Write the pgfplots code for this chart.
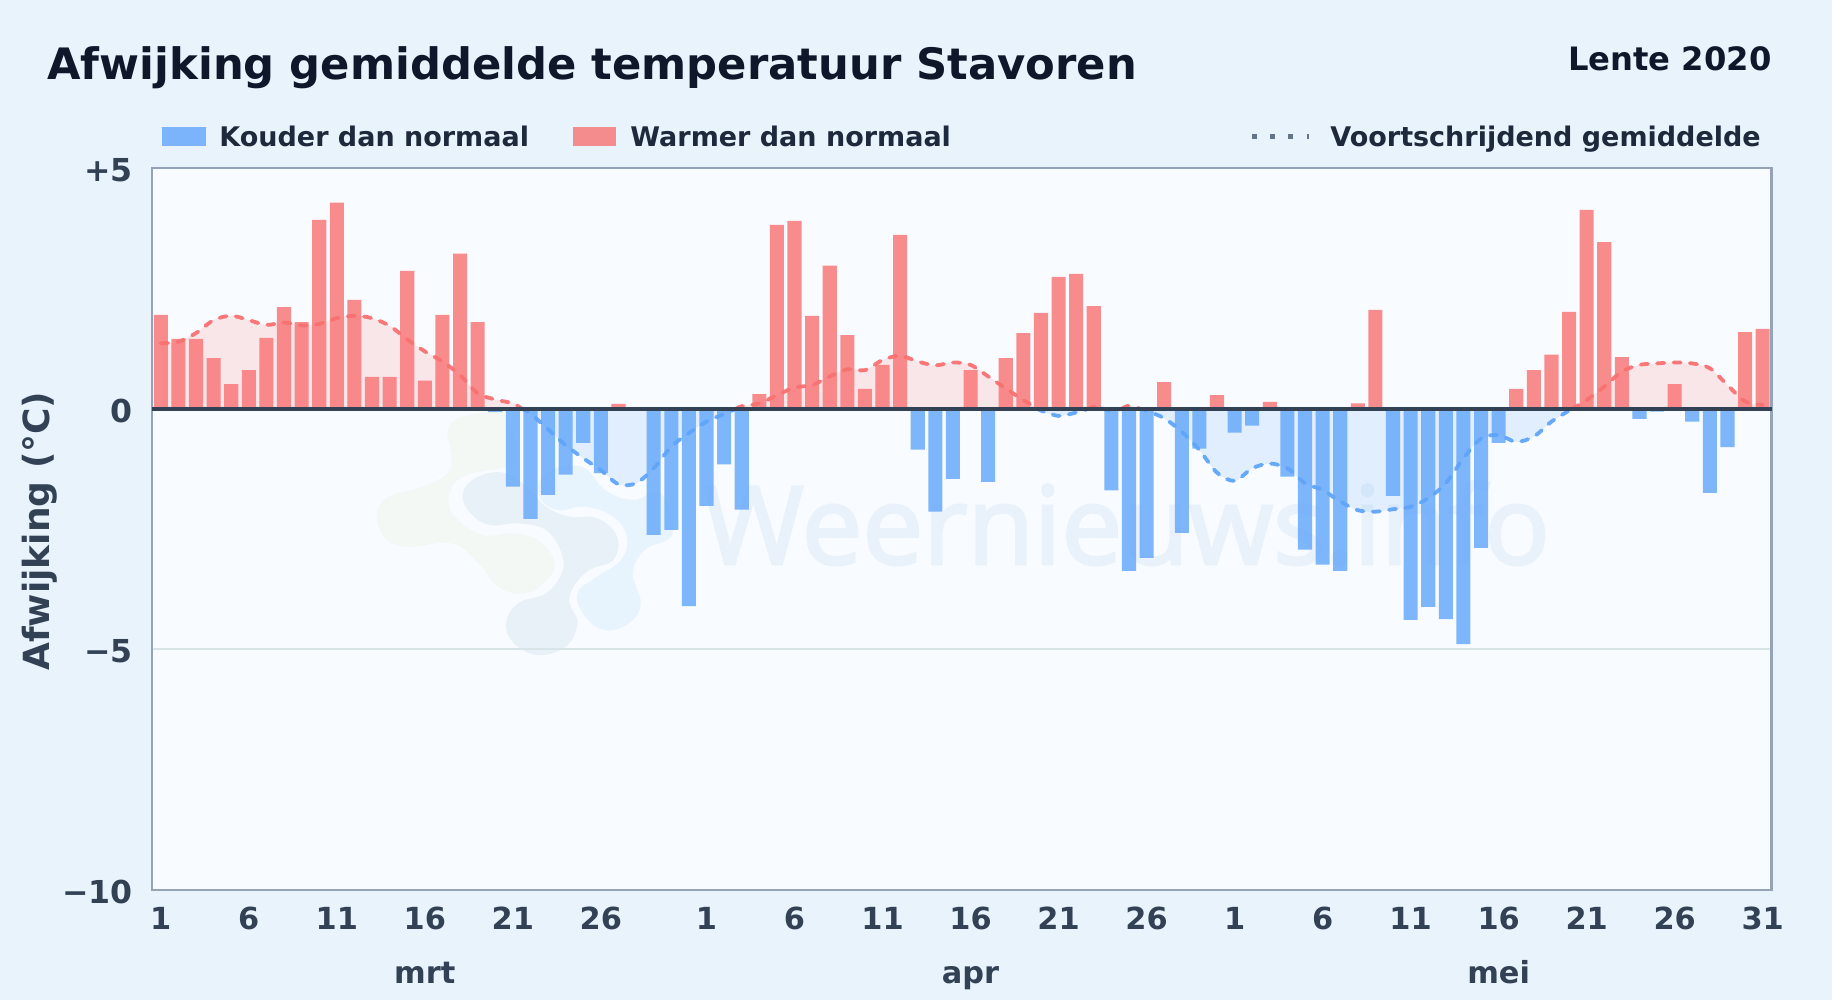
\documentclass[border=0pt]{standalone}
\usepackage{fontspec}
\usepackage{pgfplots}
\usepackage{pgfplotstable}
\pgfplotsset{compat=1.18}
\setmainfont{DejaVu Sans}
\newfontfamily\wmfont[FakeBold=2.5]{Open Sans}
\definecolor{pagebg}{HTML}{E8F3FC}
\definecolor{plotbg}{HTML}{F8FBFF}
\definecolor{framec}{HTML}{94A3B8}
\definecolor{gridc}{HTML}{D9E4E9}
\definecolor{zeroc}{HTML}{334155}
\definecolor{titlec}{HTML}{0F172A}
\definecolor{legc}{HTML}{1E293B}
\definecolor{tickc}{HTML}{334155}
\definecolor{blueb}{HTML}{60A5FA}
\definecolor{redb}{HTML}{F87171}
\definecolor{dotc}{HTML}{64748B}
\definecolor{wmtext}{HTML}{E9F2FA}
\definecolor{wmgreen}{HTML}{F3F8F5}
\definecolor{wmgray}{HTML}{E8F0F8}
\definecolor{wmblue}{HTML}{E8F4FD}

\pgfplotstableread{
x y
19 -0.07
20 -1.62
21 -2.29
22 -1.79
23 -1.37
24 -0.71
25 -1.34
28 -2.62
29 -2.52
30 -4.10
31 -2.02
32 -1.16
33 -2.10
43 -0.85
44 -2.14
45 -1.46
47 -1.52
54 -1.70
55 -3.37
56 -3.10
58 -2.58
59 -0.83
61 -0.50
62 -0.35
64 -1.41
65 -2.93
66 -3.24
67 -3.37
70 -1.81
71 -4.39
72 -4.12
73 -4.37
74 -4.89
75 -2.89
76 -0.71
84 -0.21
85 -0.06
87 -0.27
88 -1.75
89 -0.80
}\tCold
\pgfplotstableread{
x y
0 1.95
1 1.45
2 1.45
3 1.05
4 0.51
5 0.80
6 1.47
7 2.11
8 1.80
9 3.92
10 4.28
11 2.26
12 0.66
13 0.66
14 2.86
15 0.58
16 1.95
17 3.22
18 1.80
26 0.10
34 0.30
35 3.82
36 3.90
37 1.93
38 2.97
39 1.53
40 0.41
41 0.91
42 3.61
46 0.80
48 1.05
49 1.57
50 1.99
51 2.74
52 2.80
53 2.13
57 0.55
60 0.28
63 0.14
68 0.11
69 2.05
77 0.41
78 0.80
79 1.12
80 2.01
81 4.13
82 3.46
83 1.07
86 0.51
90 1.59
91 1.66
}\tWarm
% running mean, split where it changes sign
\pgfplotstableread{
x y
0 1.36
1 1.39
2 1.57
3 1.84
4 1.93
5 1.84
6 1.74
7 1.79
8 1.73
9 1.76
10 1.88
11 1.93
12 1.88
13 1.72
14 1.44
15 1.19
16 0.98
17 0.70
18 0.32
19 0.19
20 0.11
20.5 0
}\mPosA
\pgfplotstableread{
x y
20.5 0
21 -0.10
22 -0.43
23 -0.76
24 -1.03
25 -1.28
26 -1.57
27 -1.55
28 -1.24
29 -0.79
30 -0.51
31 -0.27
32 -0.11
32.7 0
}\mNegA
\pgfplotstableread{
x y
32.7 0
33 0.05
34 0.11
35 0.28
36 0.44
37 0.49
38 0.67
39 0.82
40 0.80
41 1.01
42 1.10
43 0.98
44 0.90
45 0.96
46 0.91
47 0.67
48 0.42
49 0.18
49.8 0
}\mPosB
\pgfplotstableread{
x y
49.8 0
50 -0.04
51 -0.15
52 -0.08
52.7 0
}\mNegB
\pgfplotstableread{
x y
52.7 0
53 0.04
53.5 0
}\mPosC
\pgfplotstableread{
x y
53.5 0
54 -0.04
54.6 0
}\mNegC
\pgfplotstableread{
x y
54.6 0
55 0.06
55.6 0
}\mPosD
\pgfplotstableread{
x y
55.6 0
56 -0.04
57 -0.20
58 -0.48
59 -0.86
60 -1.33
61 -1.50
62 -1.24
63 -1.14
64 -1.24
65 -1.55
66 -1.69
67 -1.93
68 -2.11
69 -2.14
70 -2.09
71 -2.04
72 -1.86
73 -1.55
74 -1.03
75 -0.62
76 -0.55
77 -0.69
78 -0.58
79 -0.27
80 -0.04
80.2 0
}\mNegD
\pgfplotstableread{
x y
80.2 0
81 0.18
82 0.46
83 0.77
84 0.91
85 0.94
86 0.96
87 0.94
88 0.84
89 0.49
90 0.15
91 0.08
}\mPosE

\newcommand{\fillseg}[2]{\addplot[draw=none,fill=#2,fill opacity=0.15,smooth,tension=0.5,forget plot] table {#1} \closedcycle;}
\newcommand{\lineseg}[2]{\addplot[color=#2,opacity=0.95,line width=1.9pt,line cap=round,dash pattern=on 3.6pt off 4.6pt,smooth,tension=0.5,forget plot] table {#1};}

\begin{document}
\begin{tikzpicture}
% page and plot area
\fill[pagebg] (0pt,0pt) rectangle (916pt,500pt);
\fill[plotbg] (76pt,55pt) rectangle (885.75pt,416pt);
% watermark logo
\begin{scope}[x=0.1977pt,y=-0.16667pt,shift={(180pt,305pt)}]
\fill[wmgreen] plot[smooth cycle,tension=0.7] coordinates {(225,110)(300,70)(370,75)(395,200)(370,230)(260,260)(225,320)(240,380)(310,435)(380,430)(450,450)(490,510)(480,560)(420,610)(350,590)(300,520)(230,460)(110,470)(50,420)(60,330)(170,285)(230,230)};
\fill[wmblue] plot[smooth cycle,tension=0.7] coordinates {(470,250)(560,230)(620,300)(690,330)(760,310)(790,430)(720,480)(690,550)(710,640)(680,700)(620,720)(570,680)(550,610)(600,560)(660,510)(675,440)(640,380)(570,350)(500,360)(455,320)};
\fill[wmgray] plot[smooth cycle,tension=0.7] coordinates {(260,310)(300,260)(370,250)(430,300)(470,350)(530,380)(600,385)(650,440)(640,510)(580,540)(540,590)(530,640)(550,700)(520,770)(450,795)(390,760)(370,700)(400,640)(470,610)(510,550)(510,490)(470,420)(400,400)(330,405)(280,370)};
\end{scope}
\begin{scope}[x=0.5pt,y=-0.5pt,shift={(0pt,500pt)}]
\node[anchor=base west,inner sep=0pt,text=wmtext,font=\wmfont\fontsize{54.2}{60}\selectfont] at (703,564) {Weernieuws.info};
% title
\node[anchor=base west,inner sep=0pt,text=titlec,font=\fontsize{21.64}{26}\selectfont\bfseries] at (47,80) {Afwijking gemiddelde temperatuur Stavoren};
\node[anchor=base east,inner sep=0pt,text=titlec,font=\fontsize{16.1}{19}\selectfont\bfseries] at (1772,71) {Lente 2020};
% legend
\fill[blueb,opacity=0.8] (162,127) rectangle (206,146);
\node[anchor=base west,inner sep=0pt,text=legc,font=\fontsize{13.5}{16}\selectfont\bfseries] at (219,147) {Kouder dan normaal};
\fill[redb,opacity=0.8] (573,127) rectangle (616,146);
\node[anchor=base west,inner sep=0pt,text=legc,font=\fontsize{13.5}{16}\selectfont\bfseries] at (630,147) {Warmer dan normaal};
\draw[dotc,line width=2.5pt,dash pattern=on 2.5pt off 6.6pt] (1252,137) -- (1309,137);
\node[anchor=base west,inner sep=0pt,text=legc,font=\fontsize{13.5}{16}\selectfont\bfseries] at (1330,147) {Voortschrijdend gemiddelde};
\end{scope}

\begin{axis}[
  at={(76pt,55pt)},anchor=south west,
  scale only axis,width=809.75pt,height=361pt,
  xmin=-0.5,xmax=91.5,ymin=-10,ymax=5,
  clip=false,
  axis line style={framec,line width=1.3pt},
  major tick length=0pt,
  ymajorgrids,grid style={gridc,line width=0.85pt},
  xtick={0,5,10,15,20,25,31,36,41,46,51,56,61,66,71,76,81,86,91},
  xticklabels={1,6,11,16,21,26,1,6,11,16,21,26,1,6,11,16,21,26,31},
  ytick={-10,-5,0,5},
  yticklabels={−10,−5,0,+5},
  tick label style={font=\fontsize{15.8}{18}\selectfont\bfseries,text=tickc,inner sep=0pt},
  xticklabel style={font=\fontsize{15.2}{18}\selectfont\bfseries,anchor=base,yshift=-20pt},
  yticklabel style={anchor=east,xshift=-9.5pt,yshift=-1pt},
  ylabel={Afwijking (°C)},
  every axis y label/.style={at={(axis description cs:-0.0692,0.497)},rotate=90,anchor=center,font=\fontsize{18}{21}\selectfont\bfseries,text=tickc},
]
\fillseg{\mPosA}{redb}\fillseg{\mNegA}{blueb}\fillseg{\mPosB}{redb}\fillseg{\mNegB}{blueb}
\fillseg{\mPosC}{redb}\fillseg{\mNegC}{blueb}\fillseg{\mPosD}{redb}\fillseg{\mNegD}{blueb}\fillseg{\mPosE}{redb}
\addplot[ybar,bar width=0.8,bar shift=0pt,fill=blueb,fill opacity=0.8,draw=none] table {\tCold};
\addplot[ybar,bar width=0.8,bar shift=0pt,fill=redb,fill opacity=0.8,draw=none] table {\tWarm};
\lineseg{\mPosA}{redb}\lineseg{\mNegA}{blueb}\lineseg{\mPosB}{redb}\lineseg{\mNegB}{blueb}
\lineseg{\mPosC}{redb}\lineseg{\mNegC}{blueb}\lineseg{\mPosD}{redb}\lineseg{\mNegD}{blueb}\lineseg{\mPosE}{redb}
\addplot[zeroc,line width=1.85pt,forget plot] coordinates {(-0.5,0)(91.5,0)};
\node[anchor=base,inner sep=0pt,text=tickc,font=\fontsize{15.2}{18}\selectfont\bfseries,yshift=-47pt] at (axis cs:15,-10) {mrt};
\node[anchor=base,inner sep=0pt,text=tickc,font=\fontsize{15.2}{18}\selectfont\bfseries,yshift=-47pt] at (axis cs:46,-10) {apr};
\node[anchor=base,inner sep=0pt,text=tickc,font=\fontsize{15.2}{18}\selectfont\bfseries,yshift=-47pt] at (axis cs:76,-10) {mei};
\end{axis}
\end{tikzpicture}
\end{document}
